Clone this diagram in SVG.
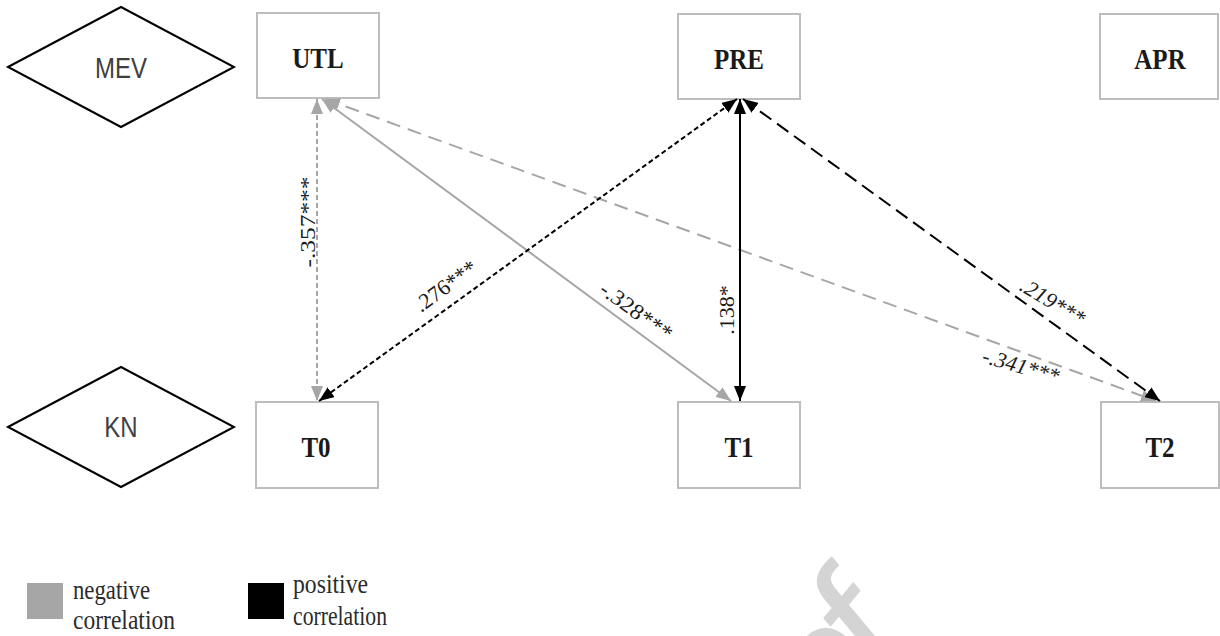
<svg xmlns="http://www.w3.org/2000/svg" width="1220" height="636" viewBox="0 0 1220 636">
<style>
.box{fill:#fff;stroke:#bdbdbd;stroke-width:2}
.dia{fill:#fff;stroke:#000;stroke-width:2}
.nlab{font-family:"Liberation Serif",serif;font-weight:bold;font-size:25px;fill:#1a1a1a;text-anchor:middle}
.dlab{font-family:"Liberation Sans",sans-serif;font-size:24px;fill:#404040;text-anchor:middle}
.elab{font-family:"Liberation Serif",serif;font-size:22px;fill:#1a1a1a;text-anchor:middle}
.leg{font-family:"Liberation Serif",serif;font-size:22px;fill:#2b2b2b}
.wm{font-family:"Liberation Sans",sans-serif;font-size:160px;fill:#d4d4d4}
.g{stroke:#a6a6a6;stroke-width:2;fill:none;marker-start:url(#ag);marker-end:url(#ag)}
.k{stroke:#000;stroke-width:2;fill:none;marker-start:url(#ak);marker-end:url(#ak)}
</style>
<defs>
<marker id="ag" viewBox="0 0 15 12" refX="15" refY="6" markerWidth="15" markerHeight="12" markerUnits="userSpaceOnUse" orient="auto-start-reverse"><path d="M0,0 L15,6 L0,12 z" fill="#a6a6a6"/></marker>
<marker id="ak" viewBox="0 0 15 12" refX="15" refY="6" markerWidth="15" markerHeight="12" markerUnits="userSpaceOnUse" orient="auto-start-reverse"><path d="M0,0 L15,6 L0,12 z" fill="#000"/></marker>
</defs>
<rect width="1220" height="636" fill="#fff"/>
<g transform="translate(913,654) scale(1,1.2) rotate(-45)"><text class="wm" x="-118" y="0">o</text><text class="wm" x="-44.5" y="0">f</text></g>
<g id="MEV"><polygon class="dia" points="8,67 121,7 234,67 121,127"/><text class="dlab" transform="translate(121,78) scale(1,1.2)">MEV</text></g>
<g id="KN"><polygon class="dia" points="8,427 121,367 234,427 121,487"/><text class="dlab" transform="translate(121,437) scale(1,1.2)">KN</text></g>
<g id="UTL"><rect class="box" x="257" y="13" width="122" height="85"/><text class="nlab" transform="translate(318,68) scale(1,1.2)">UTL</text></g>
<g id="PRE"><rect class="box" x="678" y="14" width="122" height="85"/><text class="nlab" transform="translate(739,69) scale(1,1.2)">PRE</text></g>
<g id="APR"><rect class="box" x="1100" y="14" width="118" height="85"/><text class="nlab" transform="translate(1160,69) scale(1,1.2)">APR</text></g>
<g id="T0"><rect class="box" x="256" y="402" width="122" height="86"/><text class="nlab" transform="translate(316,457) scale(1,1.2)">T0</text></g>
<g id="T1"><rect class="box" x="678" y="402" width="122" height="86"/><text class="nlab" transform="translate(739,457) scale(1,1.2)">T1</text></g>
<g id="T2"><rect class="box" x="1101" y="402" width="118" height="86"/><text class="nlab" transform="translate(1160,457) scale(1,1.2)">T2</text></g>
<g id="connectors">
<line class="g" x1="317" y1="99" x2="317" y2="401" stroke-dasharray="5,3"/>
<line class="g" x1="322" y1="99" x2="731" y2="401"/>
<line class="g" x1="325" y1="99" x2="1156" y2="401" stroke-dasharray="14,8"/>
<line class="k" x1="737" y1="99" x2="319" y2="401" stroke-dasharray="5,3"/>
<line class="k" x1="740" y1="99" x2="740" y2="401"/>
<line class="k" x1="743" y1="99" x2="1160" y2="401" stroke-dasharray="14,7"/>
<text class="elab" transform="translate(315,222) rotate(-90)" textLength="91" lengthAdjust="spacingAndGlyphs">-.357***</text>
<text class="elab" transform="translate(734,310) rotate(-90)" font-size="21">.138*</text>
<text class="elab" transform="translate(450,292) rotate(-36)">.276***</text>
<text class="elab" transform="translate(632,317) rotate(36)" textLength="84" lengthAdjust="spacingAndGlyphs">-.328***</text>
<text class="elab" transform="translate(1049,308) rotate(31)" font-style="italic">.219***</text>
<text class="elab" transform="translate(1019,373) rotate(16)" font-style="italic">-.341***</text>
</g>
<g id="legend">
<rect x="27" y="583" width="36" height="36" fill="#a6a6a6"/>
<rect x="248" y="583" width="36" height="36" fill="#000"/>
<text class="leg" transform="translate(73,599) scale(1,1.2)" textLength="77" lengthAdjust="spacingAndGlyphs">negative</text>
<text class="leg" transform="translate(73,629) scale(1,1.2)" textLength="102" lengthAdjust="spacingAndGlyphs">correlation</text>
<text class="leg" transform="translate(293,593) scale(1,1.2)" textLength="75" lengthAdjust="spacingAndGlyphs">positive</text>
<text class="leg" transform="translate(293,625) scale(1,1.2)" textLength="94" lengthAdjust="spacingAndGlyphs">correlation</text>
</g>
</svg>
